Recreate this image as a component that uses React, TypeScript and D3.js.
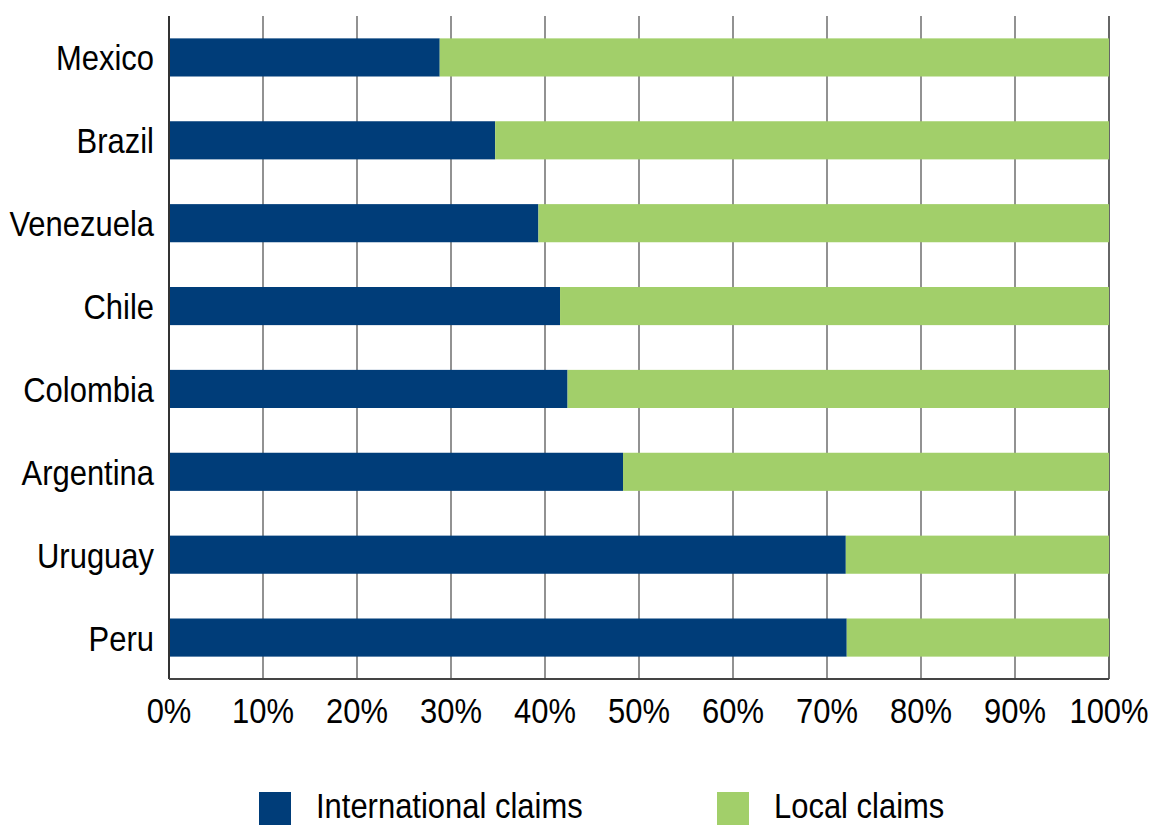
import React from "react";
import * as d3 from "d3";

const countries = ["Mexico", "Brazil", "Venezuela", "Chile", "Colombia", "Argentina", "Uruguay", "Peru"];
const international = [28.8, 34.7, 39.3, 41.6, 42.4, 48.3, 72.0, 72.1];
const local = international.map((v) => 100 - v);
const xTicks = [0, 10, 20, 30, 40, 50, 60, 70, 80, 90, 100];
const seriesNames = ["International claims", "Local claims"];
const seriesColors = ["#003d79", "#a2cf6a"];

const W = 1153;
const H = 825;
const left = 169;
const right = 1109;
const top = 16;
const bottom = 679;
const FONT = "'Liberation Sans', Arial, sans-serif";
const SX = 0.86;
const FS = 36;

function T({ x, y, anchor, children }: { x: number; y: number; anchor: string; children: React.ReactNode }) {
  return (
    <text transform={`translate(${x},${y}) scale(${SX},1)`} textAnchor={anchor} fontSize={FS} fill="#000">
      {children}
    </text>
  );
}

export default function App() {
  const x = d3.scaleLinear().domain([0, 100]).range([left, right]);
  const y = d3.scaleBand<string>().domain(countries).range([top, bottom]).paddingInner(0.54).paddingOuter(0.27);
  const bw = y.bandwidth();

  return (
    <svg width={W} height={H} style={{ position: "absolute", left: 0, top: 0, background: "#fff" }} fontFamily={FONT}>
      {xTicks.slice(1).map((t) => (
        <line key={t} x1={x(t)} x2={x(t)} y1={top} y2={bottom} stroke={t === 100 ? "#333" : "#6e6e6e"} strokeWidth={1.5} />
      ))}
      {countries.map((c, i) => (
        <g key={c}>
          <rect x={x(0)} y={y(c)!} width={x(international[i]) - x(0)} height={bw} fill={seriesColors[0]} />
          <rect x={x(international[i])} y={y(c)!} width={x(international[i] + local[i]) - x(international[i])} height={bw} fill={seriesColors[1]} />
          <T x={left - 15} y={y(c)! + bw / 2 + 13} anchor="end">{c}</T>
        </g>
      ))}
      <line x1={left} x2={left} y1={top} y2={bottom} stroke="#333" strokeWidth={2} />
      <line x1={left} x2={right} y1={bottom} y2={bottom} stroke="#444" strokeWidth={2} />
      {xTicks.map((t) => (
        <T key={t} x={x(t)} y={723} anchor="middle">{t}%</T>
      ))}
      {seriesNames.map((s, i) => {
        const lx = i === 0 ? 259 : 717;
        return (
          <g key={s}>
            <rect x={lx} y={792} width={32} height={33} fill={seriesColors[i]} />
            <T x={lx + 57} y={818} anchor="start">{s}</T>
          </g>
        );
      })}
    </svg>
  );
}
